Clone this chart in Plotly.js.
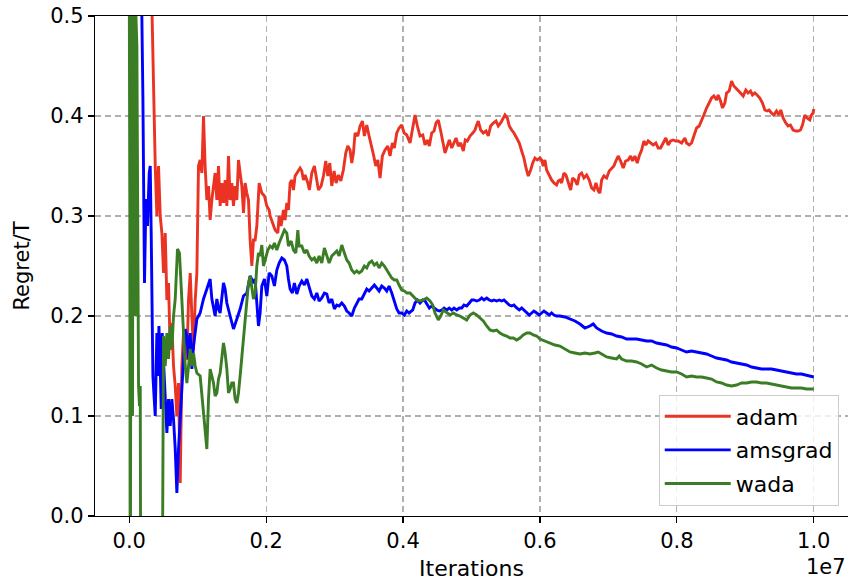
<!DOCTYPE html>
<html>
<head>
<meta charset="utf-8">
<script src="https://cdn.plot.ly/plotly-3.0.1.min.js"></script>
<style>html,body{margin:0;padding:0;background:#fff;}#chart{width:848px;height:581px;}</style>
</head>
<body>
<div id="chart"></div>
<script>
// Iterations are in units of 1e7
const xTicks = [0.0, 0.2, 0.4, 0.6, 0.8, 1.0];
const yTicks = [0.0, 0.1, 0.2, 0.3, 0.4, 0.5];

const adamX = [0,0.0161,0.0277,0.0331,0.0355,0.0380,0.0404,0.0428,0.0453,0.0477,0.0501,0.0526,0.0550,0.0574,0.0599,0.0623,0.0647,0.0672,0.0696,0.0720,0.0745,0.0769,0.0793,0.0842,0.0866,0.0891,0.0915,0.0939,0.0964,0.0988,0.1012,0.1036,0.1061,0.1085,0.1109,0.1134,0.1158,0.1182,0.1207,0.1231,0.1255,0.1280,0.1304,0.1328,0.1353,0.1377,0.1401,0.1426,0.1450,0.1474,0.1499,0.1523,0.1547,0.1572,0.1596,0.1620,0.1645,0.1669,0.1693,0.1718,0.1742,0.1766,0.1791,0.1815,
0.1839,0.1864,0.1898,0.1937,0.1975,0.2010,0.2044,0.2058,0.2092,0.2131,0.2171,0.2190,0.2219,0.2253,0.2277,0.2302,0.2326,0.2350,0.2375,0.2399,0.2423,0.2463,0.2496,0.2521,0.2545,0.2569,0.2609,0.2632,0.2667,0.2705,0.2740,0.2764,0.2803,0.2837,0.2871,0.2901,0.2930,0.2959,0.2993,0.3022,0.3056,0.3091,0.3128,0.3163,0.3193,0.3226,0.3251,0.3275,0.3299,0.3339,0.3372,0.3406,0.3435,0.3470,0.3504,0.3543,0.3572,0.3601,0.3631,0.3664,0.3698,0.3737,0.3777,0.3810,0.3844,0.3873,0.3908,0.3942,0.3981,0.4015,0.4054,
0.4102,0.4142,0.4175,0.4209,0.4248,0.4288,0.4321,0.4355,0.4384,0.4419,0.4453,0.4482,0.4515,0.4550,0.4580,0.4613,0.4647,0.4676,0.4711,0.4745,0.4774,0.4807,0.4842,0.4880,0.4909,0.4939,0.4978,0.5018,0.5051,0.5075,0.5099,0.5134,0.5172,0.5212,0.5245,0.5280,0.5318,0.5358,0.5391,0.5426,0.5464,0.5489,0.5523,0.5552,0.5587,0.5620,0.5660,0.5698,0.5733,0.5766,0.5796,0.5829,0.5864,0.5894,0.5927,0.5961,0.6000,0.6024,0.6048,0.6073,0.6097,0.6136,0.6170,0.6204,0.6243,
0.6267,0.6292,0.6316,0.6350,0.6380,0.6413,0.6448,0.6477,0.6511,0.6545,0.6574,0.6609,0.6642,0.6682,0.6720,0.6755,0.6788,0.6818,0.6851,0.6876,0.6901,0.6934,0.6974,0.7012,0.7047,0.7080,0.7109,0.7143,0.7178,0.7216,0.7251,0.7289,0.7324,0.7353,0.7387,0.7421,0.7450,0.7485,0.7518,0.7547,0.7581,0.7616,0.7654,0.7693,0.7727,0.7762,0.7800,0.7839,0.7873,0.7908,0.7946,0.7985,0.8019,0.8069,0.8117,0.8142,0.8180,0.8215,0.8248,0.8288,0.8326,0.8361,0.8394,0.8434,0.8472,0.8507,0.8540,0.8580,
0.8603,0.8638,0.8667,0.8701,0.8726,0.8764,0.8799,0.8832,0.8861,0.8895,0.8930,0.8969,0.9007,0.9041,0.9076,0.9105,0.9139,0.9172,0.9212,0.9251,0.9285,0.9318,0.9347,0.9382,0.9416,0.9455,0.9489,0.9518,0.9552,0.9591,0.9625,0.9659,0.9698,0.9737,0.9771,0.9806,0.9835,0.9869,0.9902,0.9942,0.9966,0.9991,1.0];
const adamY = [0.95,0.75,0.60,0.51,0.416,0.35,0.30,0.35,0.30,0.283,0.243,0.283,0.216,0.233,0.166,0.193,0.15,0.13,0.10,0.133,0.033,0.15,0.183,0.156,0.216,0.243,0.20,0.166,0.216,0.243,0.35,0.356,0.343,0.40,0.35,0.316,0.33,0.296,0.316,0.33,0.343,0.316,0.35,0.31,0.333,0.313,0.336,0.31,0.36,0.316,0.333,0.31,0.33,0.316,0.356,0.343,0.33,0.303,0.333,0.323,0.316,0.276,0.25,0.276,
0.276,0.29,0.333,0.323,0.32,0.31,0.306,0.30,0.293,0.286,0.283,0.30,0.29,0.306,0.296,0.313,0.306,0.333,0.336,0.326,0.34,0.345,0.348,0.345,0.336,0.341,0.333,0.326,0.343,0.35,0.336,0.326,0.33,0.34,0.355,0.34,0.353,0.33,0.345,0.333,0.341,0.335,0.346,0.363,0.37,0.366,0.353,0.363,0.383,0.38,0.39,0.395,0.38,0.391,0.38,0.37,0.36,0.35,0.356,0.338,0.36,0.366,0.37,0.36,0.373,0.368,0.383,0.388,0.391,0.383,0.381,
0.373,0.39,0.401,0.39,0.38,0.381,0.371,0.376,0.37,0.383,0.385,0.393,0.396,0.385,0.373,0.363,0.37,0.376,0.368,0.373,0.378,0.37,0.373,0.365,0.376,0.375,0.38,0.383,0.386,0.391,0.395,0.386,0.383,0.385,0.38,0.39,0.393,0.395,0.39,0.393,0.398,0.401,0.398,0.39,0.386,0.383,0.378,0.373,0.365,0.358,0.348,0.34,0.346,0.353,0.358,0.356,0.358,0.356,0.35,0.356,0.346,0.34,0.336,0.333,0.331,
0.335,0.336,0.333,0.343,0.341,0.333,0.326,0.338,0.336,0.331,0.341,0.343,0.338,0.341,0.336,0.328,0.326,0.333,0.325,0.323,0.336,0.34,0.338,0.345,0.348,0.35,0.355,0.36,0.355,0.348,0.355,0.356,0.36,0.355,0.36,0.353,0.36,0.366,0.375,0.371,0.375,0.373,0.371,0.373,0.368,0.368,0.373,0.378,0.371,0.375,0.376,0.375,0.375,0.373,0.378,0.373,0.371,0.373,0.38,0.388,0.39,0.395,0.401,0.408,0.413,0.418,0.42,0.416,
0.421,0.415,0.408,0.413,0.423,0.425,0.435,0.43,0.428,0.426,0.423,0.42,0.426,0.423,0.425,0.421,0.423,0.421,0.418,0.413,0.406,0.405,0.406,0.403,0.401,0.405,0.401,0.406,0.398,0.393,0.39,0.391,0.386,0.385,0.385,0.386,0.391,0.401,0.398,0.396,0.401,0.403,0.407];

const amsgradX = [0,0.0015,0.0029,0.0102,0.0175,0.0200,0.0215,0.0223,0.0244,0.0267,0.0292,0.0307,0.0321,0.0336,0.0346,0.0365,0.0380,0.0394,0.0404,0.0419,0.0434,0.0453,0.0467,0.0482,0.0501,0.0526,0.0550,0.0574,0.0599,0.0623,0.0647,0.0672,0.0696,0.0720,0.0745,0.0769,0.0793,0.0818,0.0842,0.0866,0.0891,0.0915,0.0939,0.0964,0.0988,0.1036,0.1085,0.1134,0.1182,0.1207,0.1231,0.1255,0.1280,0.1304,0.1328,0.1377,0.1401,0.1426,0.1474,0.1523,0.1572,0.1620,0.1669,0.1718,0.1766,0.1815,
0.1839,0.1864,0.1888,0.1912,0.1937,0.1975,0.2010,0.2044,0.2083,0.2121,0.2156,0.2190,0.2229,0.2267,0.2302,0.2326,0.2350,0.2384,0.2413,0.2448,0.2482,0.2521,0.2559,0.2594,0.2628,0.2667,0.2705,0.2740,0.2774,0.2813,0.2851,0.2886,0.2920,0.2959,0.2997,0.3032,0.3066,0.3105,0.3143,0.3178,0.3212,0.3251,0.3289,0.3324,0.3358,0.3397,0.3435,0.3470,0.3504,0.3543,0.3581,0.3616,0.3650,0.3689,0.3727,0.3762,0.3796,0.3835,0.3873,0.3908,0.3942,0.3981,0.4019,0.4054,0.4088,
0.4142,0.4175,0.4209,0.4248,0.4288,0.4321,0.4355,0.4384,0.4419,0.4453,0.4492,0.4530,0.4565,0.4599,0.4638,0.4676,0.4711,0.4745,0.4784,0.4822,0.4857,0.4891,0.4930,0.4968,0.5003,0.5036,0.5076,0.5114,0.5149,0.5182,0.5222,0.5260,0.5295,0.5328,0.5368,0.5406,0.5441,0.5474,0.5514,0.5552,0.5587,0.5620,0.5660,0.5698,0.5733,0.5766,0.5806,0.5844,0.5879,0.5912,0.5952,0.5990,0.6024,0.6058,0.6097,0.6136,0.6170,0.6204,0.6243,
0.6292,0.6365,0.6438,0.6511,0.6584,0.6657,0.6730,0.6778,0.6828,0.6901,0.6974,0.7047,0.7120,0.7193,0.7266,0.7339,0.7412,0.7485,0.7558,0.7631,0.7704,0.7777,0.7850,0.7923,0.7996,0.8069,0.8142,0.8215,0.8288,0.8361,0.8434,0.8507,0.8580,0.8653,0.8726,0.8799,0.8872,0.8945,0.9018,0.9091,0.9164,0.9237,0.9309,0.9382,0.9455,0.9528,0.9601,0.9674,0.9747,0.9820,0.9893,0.9966,1.0];
const amsgradY = [0.60,0.486,0.60,0.80,0.55,0.417,0.317,0.233,0.317,0.29,0.343,0.35,0.283,0.183,0.14,0.117,0.10,0.15,0.183,0.14,0.19,0.15,0.107,0.183,0.15,0.117,0.083,0.117,0.09,0.117,0.097,0.067,0.023,0.067,0.10,0.133,0.16,0.187,0.18,0.157,0.183,0.147,0.17,0.183,0.197,0.203,0.217,0.227,0.237,0.217,0.21,0.20,0.217,0.207,0.203,0.233,0.227,0.213,0.20,0.187,0.197,0.207,0.22,0.223,0.24,0.233,
0.237,0.217,0.19,0.203,0.23,0.237,0.22,0.243,0.24,0.23,0.246,0.253,0.258,0.256,0.25,0.237,0.227,0.223,0.233,0.222,0.23,0.235,0.231,0.237,0.23,0.22,0.217,0.223,0.215,0.218,0.223,0.222,0.213,0.217,0.207,0.211,0.21,0.213,0.21,0.205,0.203,0.20,0.208,0.213,0.217,0.217,0.222,0.227,0.225,0.228,0.231,0.228,0.225,0.23,0.228,0.225,0.23,0.223,0.215,0.207,0.203,0.203,0.201,0.205,0.203,
0.206,0.213,0.216,0.213,0.216,0.215,0.211,0.208,0.21,0.208,0.206,0.205,0.206,0.208,0.206,0.208,0.206,0.208,0.206,0.208,0.208,0.211,0.21,0.213,0.216,0.216,0.215,0.216,0.218,0.216,0.218,0.216,0.215,0.216,0.215,0.216,0.215,0.216,0.213,0.211,0.21,0.211,0.208,0.206,0.208,0.206,0.203,0.201,0.203,0.205,0.203,0.201,0.203,0.205,0.203,0.201,0.203,0.201,0.20,
0.20,0.199,0.197,0.195,0.192,0.188,0.19,0.192,0.188,0.185,0.183,0.182,0.18,0.179,0.177,0.177,0.177,0.176,0.175,0.175,0.173,0.172,0.171,0.169,0.168,0.166,0.164,0.165,0.164,0.163,0.162,0.16,0.158,0.157,0.156,0.154,0.153,0.152,0.151,0.149,0.148,0.147,0.147,0.147,0.146,0.145,0.144,0.143,0.142,0.142,0.141,0.14,0.139];

const wadaX = [0,0.0009,0.0015,0.0022,0.0029,0.0048,0.0058,0.0069,0.0077,0.0088,0.0098,0.0112,0.0124,0.0136,0.0150,0.0161,0.0171,0.0321,0.0482,0.0501,0.0526,0.0550,0.0574,0.0599,0.0623,0.0647,0.0672,0.0705,0.0734,0.0769,0.0793,0.0818,0.0842,0.0866,0.0891,0.0915,0.0939,0.0964,0.0988,0.1036,0.1085,0.1109,0.1134,0.1158,0.1182,0.1207,0.1231,0.1255,0.1280,0.1304,0.1328,0.1377,0.1401,0.1426,0.1450,0.1474,0.1499,0.1523,0.1547,0.1572,0.1596,0.1620,0.1645,0.1669,0.1693,0.1718,0.1742,0.1766,0.1791,0.1815,
0.1839,0.1864,0.1888,0.1912,0.1937,0.1961,0.1985,0.2025,0.2058,0.2092,0.2121,0.2156,0.2190,0.2229,0.2267,0.2302,0.2326,0.2365,0.2399,0.2434,0.2463,0.2482,0.2521,0.2559,0.2594,0.2628,0.2667,0.2705,0.2740,0.2774,0.2813,0.2851,0.2886,0.2920,0.2959,0.2997,0.3032,0.3066,0.3105,0.3143,0.3178,0.3212,0.3251,0.3289,0.3324,0.3358,0.3397,0.3435,0.3470,0.3504,0.3543,0.3581,0.3616,0.3650,0.3689,0.3727,0.3762,0.3796,0.3835,0.3873,0.3908,0.3942,0.3981,0.4019,0.4054,
0.4102,0.4150,0.4200,0.4248,0.4296,0.4346,0.4394,0.4434,0.4467,0.4515,0.4550,0.4588,0.4638,0.4686,0.4734,0.4784,0.4832,0.4880,0.4930,0.4978,0.5026,0.5075,0.5124,0.5172,0.5222,0.5270,0.5318,0.5368,0.5416,0.5464,0.5514,0.5562,0.5610,0.5660,0.5708,0.5756,0.5806,0.5854,0.5902,0.5952,0.6000,0.6073,0.6146,0.6219,
0.6292,0.6365,0.6438,0.6511,0.6584,0.6657,0.6730,0.6803,0.6851,0.6901,0.6974,0.7047,0.7120,0.7158,0.7193,0.7266,0.7339,0.7412,0.7485,0.7558,0.7631,0.7704,0.7777,0.7850,0.7923,0.7996,0.8069,0.8142,0.8215,0.8288,0.8361,0.8434,0.8507,0.8580,0.8653,0.8726,0.8799,0.8872,0.8945,0.9018,0.9091,0.9164,0.9237,0.9309,0.9382,0.9455,0.9528,0.9601,0.9674,0.9747,0.9820,0.9893,0.9966,1.0];
const wadaY = [0.55,0.30,-0.20,0.30,0.55,0.10,0.52,0.35,0.55,0.20,0.50,0.47,0.30,0.13,0.11,0.13,-0.20,-0.30,-0.10,0.18,0.15,0.183,0.157,0.19,0.167,0.20,0.217,0.267,0.263,0.217,0.183,0.15,0.133,0.15,0.167,0.15,0.163,0.15,0.143,0.14,0.10,0.083,0.067,0.117,0.147,0.14,0.133,0.12,0.123,0.137,0.143,0.173,0.163,0.147,0.123,0.127,0.133,0.133,0.117,0.113,0.123,0.14,0.16,0.177,0.197,0.217,0.233,0.24,0.23,0.217,
0.223,0.25,0.263,0.26,0.271,0.25,0.256,0.266,0.27,0.268,0.273,0.266,0.273,0.28,0.286,0.283,0.27,0.275,0.266,0.263,0.286,0.27,0.27,0.263,0.266,0.26,0.256,0.258,0.253,0.26,0.253,0.268,0.26,0.253,0.26,0.263,0.265,0.26,0.271,0.263,0.256,0.253,0.246,0.243,0.245,0.243,0.245,0.25,0.248,0.253,0.255,0.251,0.253,0.248,0.253,0.25,0.246,0.243,0.238,0.236,0.236,0.231,0.226,0.225,0.223,
0.223,0.22,0.216,0.215,0.216,0.218,0.215,0.211,0.203,0.196,0.20,0.206,0.203,0.201,0.203,0.201,0.20,0.198,0.196,0.201,0.203,0.201,0.198,0.195,0.19,0.186,0.185,0.186,0.183,0.181,0.18,0.178,0.178,0.176,0.178,0.181,0.183,0.183,0.181,0.18,0.177,0.175,0.173,0.171,
0.17,0.167,0.164,0.163,0.162,0.163,0.162,0.163,0.164,0.162,0.159,0.158,0.157,0.16,0.157,0.155,0.155,0.154,0.152,0.149,0.151,0.148,0.146,0.145,0.144,0.144,0.142,0.139,0.14,0.139,0.139,0.138,0.137,0.134,0.133,0.131,0.13,0.131,0.133,0.133,0.134,0.134,0.133,0.133,0.132,0.131,0.13,0.129,0.128,0.128,0.128,0.127,0.127,0.127];

const seriesNames = ['adam', 'amsgrad', 'wada'];
const seriesColors = ['#ea3323', '#0000ff', '#3a7d24'];

const FONT = 'DejaVu Sans, Verdana, sans-serif';
const xs = [adamX, amsgradX, wadaX];
const ys = [adamY, amsgradY, wadaY];

const traces = seriesNames.map((n, i) => ({
  type: 'scatter', mode: 'lines', name: n,
  x: xs[i], y: ys[i],
  legendgroup: n,
  line: {color: seriesColors[i], width: 2.9}
}));

const axisCommon = {
  showline: true, linecolor: '#000', linewidth: 1.2, mirror: true,
  ticks: 'outside', ticklen: 6, tickwidth: 1.2, tickcolor: '#000',
  showgrid: true, gridcolor: '#b0b0b0', gridwidth: 1.1, griddash: '6px,4px',
  zeroline: false,
  tickfont: {family: FONT, size: 21, color: '#000'},
  tickformat: '.1f'
};

const layout = {
  width: 848, height: 581,
  margin: {l: 95, r: 0, t: 16, b: 65},
  paper_bgcolor: '#fff', plot_bgcolor: '#fff',
  showlegend: true,
  xaxis: Object.assign({}, axisCommon, {
    range: [-0.05, 1.05], tickvals: xTicks,
    title: {text: 'Iterations', font: {family: FONT, size: 22, color: '#000'}, standoff: 10}
  }),
  yaxis: Object.assign({}, axisCommon, {
    range: [0, 0.5], tickvals: yTicks,
    title: {text: 'Regret/T', font: {family: FONT, size: 21, color: '#000'}, standoff: 14}
  }),
  legend: {
    x: 0.9877, y: 0.021, xanchor: 'right', yanchor: 'bottom',
    bgcolor: 'rgba(255,255,255,0.8)', bordercolor: '#cccccc', borderwidth: 1,
    font: {family: FONT, size: 22, color: '#000'},
    tracegroupgap: 2, itemwidth: 66
  },
  annotations: [{
    text: '1e7', xref: 'paper', yref: 'paper', x: 1, y: -0.129,
    xanchor: 'right', yanchor: 'bottom', showarrow: false,
    font: {family: FONT, size: 21, color: '#000'}
  }]
};

Plotly.newPlot('chart', traces, layout, {displayModeBar: false, staticPlot: true});
</script>
</body>
</html>
